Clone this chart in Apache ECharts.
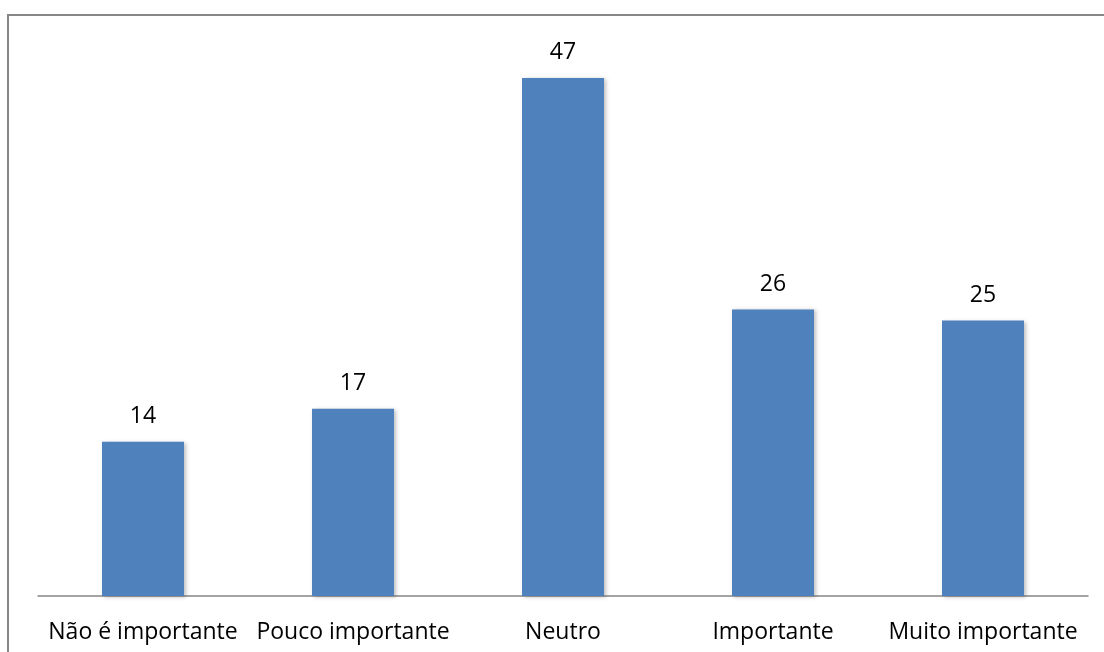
<!doctype html>
<html lang="pt">
<head>
<meta charset="UTF-8">
<title>Importância</title>
<script src="https://cdn.jsdelivr.net/npm/echarts@6/dist/echarts.min.js"></script>
<style>
  html, body { margin: 0; padding: 0; background: #fff; }
  #main { width: 1104px; height: 652px; }
</style>
</head>
<body>
<div id="main"></div>
<script>
var categorias = ['Não é importante', 'Pouco importante', 'Neutro', 'Importante', 'Muito importante'];
var valores = [14, 17, 47, 26, 25];

var chart = echarts.init(document.getElementById('main'));
var fonte = '"Open Sans", "Noto Sans", sans-serif';

chart.setOption({
    animation: false,
    grid: { left: 38, right: 16, top: 45, bottom: 56 },
    xAxis: {
        type: 'category',
        data: categorias,
        axisLine: { lineStyle: { color: '#878787', width: 1.5 } },
        axisTick: { show: false },
        axisLabel: { color: '#000', fontSize: 23, fontFamily: fonte, margin: 25, interval: 0 }
    },
    yAxis: {
        type: 'value',
        min: 0,
        max: 50,
        show: false,
        splitLine: { show: false }
    },
    series: [{
        type: 'bar',
        data: valores,
        barWidth: 82,
        itemStyle: {
            color: '#4F81BD',
            shadowColor: 'rgba(0,0,0,0.25)',
            shadowBlur: 4,
            shadowOffsetX: 2,
            shadowOffsetY: 1
        },
        label: {
            show: true,
            position: 'top',
            distance: 14,
            color: '#000',
            fontSize: 23,
            fontFamily: fonte
        }
    }],
    graphic: [{
        type: 'polyline',
        shape: { points: [[8, 652], [8, 15], [1104, 15]] },
        style: { stroke: '#878787', lineWidth: 2, fill: null }
    }]
});
</script>
</body>
</html>
